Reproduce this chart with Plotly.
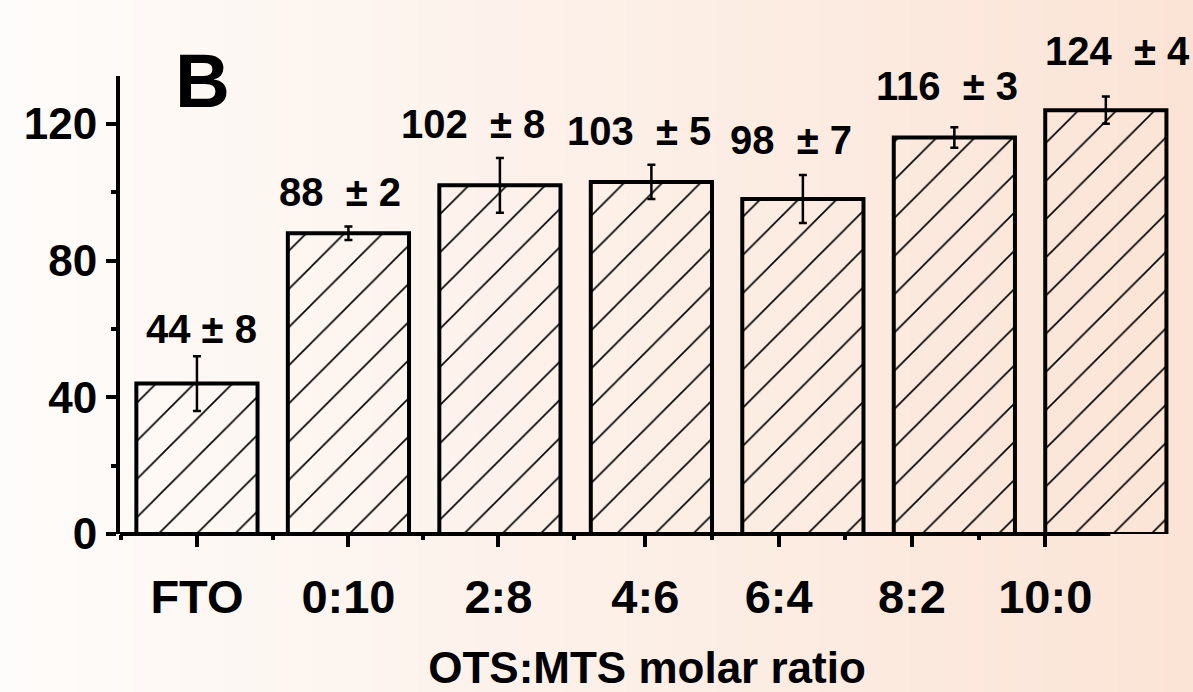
import plotly.graph_objects as go

# ---- data ----
categories = ["FTO", "0:10", "2:8", "4:6", "6:4", "8:2", "10:0"]
values = [44, 88, 102, 103, 98, 116, 124]
errors = [8, 2, 8, 5, 7, 3, 4]
label_text = ["44 ± 8", "88  ± 2", "102  ± 8", "103  ± 5", "98  ± 7", "116  ± 3", "124  ± 4"]
y_ticks = [0, 40, 80, 120]

# ---- layout helpers (positions / styles) ----
W, H = 1193, 692
ML, MR, MT, MB = 120, 19, 76, 158
x_idx = list(range(len(categories)))
x_range = [-0.508, 6.45]
y_range = [0, 134]
major_x_ticks = [0, 1.0, 1.99, 2.96, 3.84, 4.72, 5.6]
minor_x_ticks = [-0.5, 0.5, 1.49, 2.49, 3.4, 4.28, 5.16]
label_dx = [5, -8, -27, -12, -12, -7, 12]
label_dy = [55, 41, 61, 51, 59, 52, 59]

FONT = "Liberation Sans, Arial, Helvetica, sans-serif"

fig = go.Figure()
fig.add_trace(go.Bar(
    x=x_idx, y=values, width=0.8,
    marker=dict(
        color="rgba(0,0,0,0)",
        line=dict(color="black", width=4),
        pattern=dict(shape="/", fgcolor="black", bgcolor="rgba(0,0,0,0)",
                     fgopacity=1, size=27, solidity=0.06, fillmode="overlay"),
    ),
    error_y=dict(type="data", array=errors, visible=True,
                 color="black", thickness=2.5, width=4),
    showlegend=False,
))

# value labels
for i, (v, t) in enumerate(zip(values, label_text)):
    fig.add_annotation(
        x=x_idx[i], y=v, xref="x", yref="y",
        text=t.replace(" ", "\u00a0"), showarrow=False,
        xanchor="center", yanchor="middle",
        xshift=label_dx[i], yshift=label_dy[i],
        font=dict(family=FONT, size=40, color="black", weight="bold"),
    )

# panel letter
fig.add_annotation(
    x=(202 - ML) / (W - ML - MR), y=(H - MB - 80) / (H - MB - MT),
    xref="paper", yref="paper", text="B", showarrow=False,
    xanchor="center", yanchor="middle",
    font=dict(family=FONT, size=76, color="black", weight="bold"),
)

# background gradient (white -> peach)
pw = W - ML - MR
n = 80
c0 = (254, 252, 250)
c1 = (251, 228, 214)
shapes = []
for k in range(n):
    f = k / (n - 1)
    col = tuple(round(c0[j] + (c1[j] - c0[j]) * f) for j in range(3))
    px0 = W * k / n
    px1 = W * (k + 1) / n + 1
    shapes.append(dict(
        type="rect", xref="paper", yref="paper", layer="below",
        x0=(px0 - ML) / pw, x1=(px1 - ML) / pw,
        y0=-MB / (H - MT - MB), y1=(H - MB) / (H - MT - MB),
        fillcolor="rgb(%d,%d,%d)" % col, line=dict(width=0),
    ))
# x axis line (ends before last bar edge, as in the original)
shapes.append(dict(
    type="line", xref="x", yref="paper", layer="above",
    x0=x_range[0], x1=6.03, y0=0, y1=0,
    line=dict(color="black", width=4),
))

fig.update_layout(
    width=W, height=H,
    margin=dict(l=ML, r=MR, t=MT, b=MB, autoexpand=False),
    paper_bgcolor="rgb(254,252,250)",
    plot_bgcolor="rgba(0,0,0,0)",
    shapes=shapes,
    bargap=0.2,
    xaxis=dict(
        range=x_range, showgrid=False, zeroline=False, showline=False,
        automargin=False,
        tickmode="array", tickvals=major_x_ticks, ticktext=categories,
        ticks="outside", ticklen=12, tickwidth=4, tickcolor="black",
        ticklabelstandoff=10,
        tickfont=dict(family=FONT, size=47, color="black", weight="bold"),
        minor=dict(tickmode="array", tickvals=minor_x_ticks, ticks="outside",
                   ticklen=5, tickwidth=4, tickcolor="black"),
        title=dict(text="OTS:MTS molar ratio", standoff=35,
                   font=dict(family=FONT, size=44, color="black", weight="bold")),
    ),
    yaxis=dict(
        range=y_range, showgrid=False, zeroline=False,
        automargin=False,
        showline=True, linewidth=4, linecolor="black",
        tickmode="array", tickvals=y_ticks,
        ticks="outside", ticklen=10, tickwidth=4, tickcolor="black",
        tickfont=dict(family=FONT, size=44, color="black", weight="bold"),
        minor=dict(dtick=20, ticks="outside", ticklen=5, tickwidth=4, tickcolor="black"),
    ),
)

fig.write_html("out.html",
               config={"displayModeBar": False},
               post_script="document.body.style.margin='0';document.body.style.overflow='hidden';")
